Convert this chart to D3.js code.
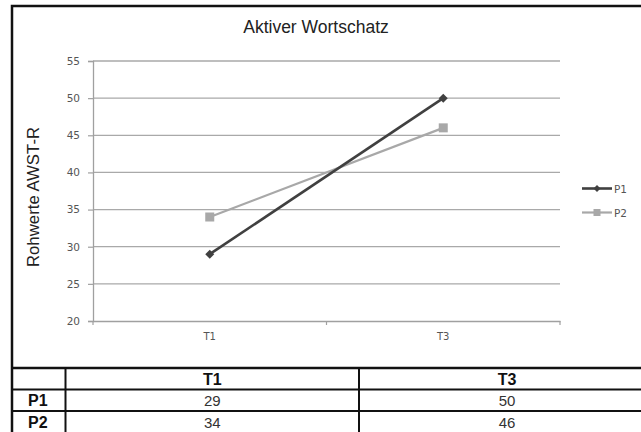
<!DOCTYPE html>
<html>
<head>
<meta charset="utf-8">
<script src="https://cdn.jsdelivr.net/npm/d3@7"></script>
<style>
  html, body { margin: 0; padding: 0; background: #fff; }
  svg { display: block; }
</style>
</head>
<body>
<svg id="chart" width="641" height="432"></svg>
<script>
// Data
const categories = ["T1", "T3"];
const seriesNames = ["P1", "P2"];
const p1Values = [29, 50];
const p2Values = [34, 46];
const yTicks = [20, 25, 30, 35, 40, 45, 50, 55];

const chartTitle = "Aktiver Wortschatz";
const yTitle = "Rohwerte AWST-R";

const series = [
  { name: seriesNames[0], values: p1Values, color: "#404040", marker: "diamond", width: 2.6 },
  { name: seriesNames[1], values: p2Values, color: "#a8a8a8", marker: "square", width: 2.2 }
];

const svg = d3.select("#chart");

// Plot geometry
const plot = { left: 93, right: 560, top: 61, bottom: 321 };

const x = d3.scaleBand().domain(categories).range([plot.left, plot.right]);
const y = d3.scaleLinear().domain([20, 55]).range([plot.bottom, plot.top]);

// Outer frame
svg.append("rect")
  .attr("x", 12).attr("y", 6)
  .attr("width", 660).attr("height", 440)
  .attr("fill", "none").attr("stroke", "#111").attr("stroke-width", 2.5);

// Title
svg.append("text")
  .attr("x", 316).attr("y", 33)
  .attr("text-anchor", "middle")
  .attr("font-family", "Liberation Sans, Arial, sans-serif")
  .attr("font-size", 17.5)
  .attr("fill", "#222")
  .text(chartTitle);

// Y axis title
svg.append("text")
  .attr("transform", "translate(39,197) rotate(-90)")
  .attr("text-anchor", "middle")
  .attr("font-family", "Liberation Sans, Arial, sans-serif")
  .attr("font-size", 16.8)
  .attr("fill", "#222")
  .text(yTitle);

// Gridlines
svg.append("g")
  .selectAll("line")
  .data(yTicks.filter(t => t !== 20))
  .join("line")
  .attr("x1", plot.left).attr("x2", plot.right)
  .attr("y1", d => y(d)).attr("y2", d => y(d))
  .attr("stroke", "#a9a9a9").attr("stroke-width", 1.3);

// Y axis
const yAxis = svg.append("g")
  .attr("transform", `translate(${plot.left},0)`)
  .call(d3.axisLeft(y).tickValues(yTicks).tickSize(5).tickPadding(8));
yAxis.select(".domain").attr("stroke", "#a0a0a0").attr("stroke-width", 1.3);
yAxis.selectAll(".tick line").attr("stroke", "#a0a0a0").attr("stroke-width", 1.2);
yAxis.selectAll("text")
  .attr("font-family", "DejaVu Sans, sans-serif")
  .attr("font-size", 10.5)
  .attr("fill", "#555");

// X axis
const xAxis = svg.append("g")
  .attr("transform", `translate(0,${plot.bottom})`)
  .call(d3.axisBottom(x).tickSize(0).tickPadding(12));
xAxis.select(".domain").attr("stroke", "#a0a0a0").attr("stroke-width", 1.3);
xAxis.selectAll("text")
  .attr("font-family", "DejaVu Sans, sans-serif")
  .attr("font-size", 10)
  .attr("fill", "#555");
// category boundary ticks
const bounds = [plot.left, plot.left + x.step(), plot.right];
xAxis.append("g").selectAll("line")
  .data(bounds)
  .join("line")
  .attr("x1", d => d).attr("x2", d => d)
  .attr("y1", 0).attr("y2", 4)
  .attr("stroke", "#a0a0a0").attr("stroke-width", 1.2);

const cx = c => x(c) + x.bandwidth() / 2;

function drawMarker(g, type, color, px, py, s) {
  if (type === "diamond") {
    g.append("path")
      .attr("d", `M${px},${py - s}L${px + s},${py}L${px},${py + s}L${px - s},${py}Z`)
      .attr("fill", color);
  } else {
    g.append("rect")
      .attr("x", px - s).attr("y", py - s)
      .attr("width", 2 * s).attr("height", 2 * s)
      .attr("fill", color);
  }
}

// Lines and markers (P2 first so P1 sits on top)
const line = d3.line().x((d, i) => cx(categories[i])).y(d => y(d));
[series[1], series[0]].forEach(s => {
  const g = svg.append("g");
  g.append("path")
    .attr("d", line(s.values))
    .attr("fill", "none")
    .attr("stroke", s.color)
    .attr("stroke-width", s.width);
  s.values.forEach((v, i) => {
    drawMarker(g, s.marker, s.color, cx(categories[i]), y(v), 4.5);
  });
});

// Legend
const legend = svg.append("g");
series.forEach((s, i) => {
  const ly = 188.5 + i * 24;
  legend.append("line")
    .attr("x1", 582).attr("x2", 612)
    .attr("y1", ly).attr("y2", ly)
    .attr("stroke", s.color).attr("stroke-width", s.width);
  drawMarker(legend, s.marker, s.color, 597, ly, 3.5);
  legend.append("text")
    .attr("x", 614).attr("y", ly + 4)
    .attr("font-family", "DejaVu Sans, sans-serif")
    .attr("font-size", 10.5)
    .attr("fill", "#555")
    .text(s.name);
});

// Data table
const tbl = { top: 368, rows: [368, 389.5, 411, 433], cols: [12, 65.5, 359, 655] };
const tg = svg.append("g");
tbl.rows.forEach(r => {
  tg.append("line")
    .attr("x1", tbl.cols[0]).attr("x2", 641)
    .attr("y1", r).attr("y2", r)
    .attr("stroke", "#111").attr("stroke-width", r === tbl.top ? 2.5 : 2);
});
tbl.cols.slice(1, 3).forEach(c => {
  tg.append("line")
    .attr("x1", c).attr("x2", c)
    .attr("y1", tbl.top).attr("y2", 432)
    .attr("stroke", "#111").attr("stroke-width", 2);
});

const colCenter = i => (tbl.cols[i] + tbl.cols[i + 1]) / 2;
const rowCenter = i => (tbl.rows[i] + tbl.rows[i + 1]) / 2;
const font = "Liberation Sans, Arial, sans-serif";

categories.forEach((c, i) => {
  tg.append("text")
    .attr("x", colCenter(i + 1)).attr("y", rowCenter(0) + 6)
    .attr("text-anchor", "middle")
    .attr("font-family", font).attr("font-weight", "bold")
    .attr("font-size", 16).attr("fill", "#111")
    .text(c);
});
series.forEach((s, r) => {
  tg.append("text")
    .attr("x", colCenter(0) - 1).attr("y", rowCenter(r + 1) + 6)
    .attr("text-anchor", "middle")
    .attr("font-family", font).attr("font-weight", "bold")
    .attr("font-size", 16).attr("fill", "#111")
    .text(s.name);
  s.values.forEach((v, i) => {
    tg.append("text")
      .attr("x", colCenter(i + 1)).attr("y", rowCenter(r + 1) + 5.5)
      .attr("text-anchor", "middle")
      .attr("font-family", font)
      .attr("font-size", 15).attr("fill", "#333")
      .text(v);
  });
});
</script>
</body>
</html>
